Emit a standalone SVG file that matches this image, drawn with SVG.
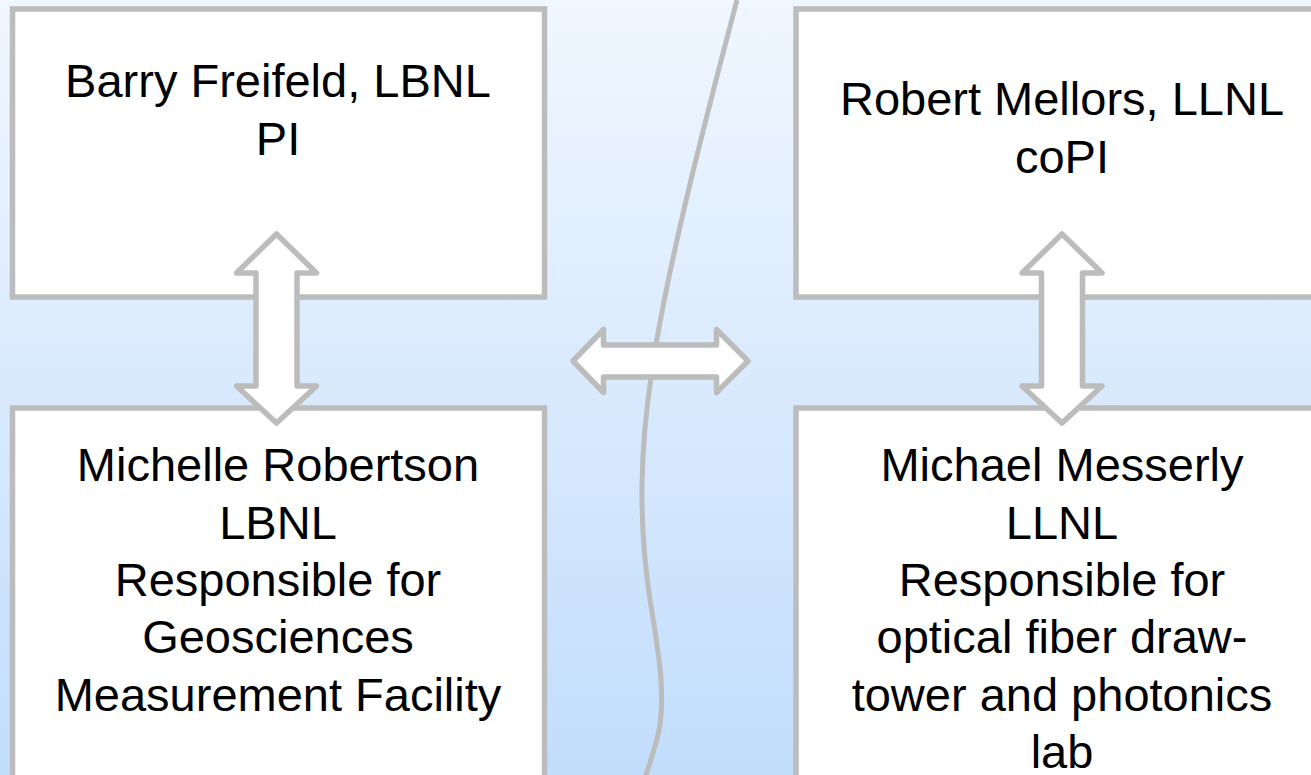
<svg xmlns="http://www.w3.org/2000/svg" width="1311" height="775" viewBox="0 0 1311 775">
<defs>
<linearGradient id="bg" x1="0" y1="0" x2="0" y2="1">
<stop offset="0" stop-color="#f0f7ff"/>
<stop offset="1" stop-color="#c2ddfc"/>
</linearGradient>
</defs>
<style>
.box{fill:#ffffff;stroke:#bcbcbc;stroke-width:5.5}
.arr{fill:#ffffff;stroke:#bcbcbc;stroke-width:5.5;stroke-linejoin:round}
.line{fill:none;stroke:#bcbcbc;stroke-width:5}
text{font-family:"Liberation Sans",Arial,sans-serif;font-size:47px;fill:#000000;text-anchor:middle}
</style>
<rect x="0" y="0" width="1311" height="775" fill="url(#bg)"/>
<g id="divider">
<path class="line" d="M737,0 C712,95 668,260 652,370 C640,450 638,520 650,600 C660,660 666,700 658,735 C654,752 649,765 645,778"/>
</g>
<g id="node-freifeld">
<rect class="box" x="12.5" y="9" width="532" height="288"/>
<text x="278" y="97">Barry Freifeld, LBNL</text>
<text x="278" y="155">PI</text>
</g>
<g id="node-mellors">
<rect class="box" x="796" y="9" width="540" height="288"/>
<text x="1062" y="115">Robert Mellors, LLNL</text>
<text x="1062" y="173">coPI</text>
</g>
<g id="node-robertson">
<rect class="box" x="12.5" y="408" width="532" height="370"/>
<text x="278" y="481">Michelle Robertson</text>
<text x="278" y="539">LBNL</text>
<text x="278" y="596">Responsible for</text>
<text x="278" y="653">Geosciences</text>
<text x="278" y="711">Measurement Facility</text>
</g>
<g id="node-messerly">
<rect class="box" x="796" y="408" width="540" height="370"/>
<text x="1062" y="481">Michael Messerly</text>
<text x="1062" y="539">LLNL</text>
<text x="1062" y="596">Responsible for</text>
<text x="1062" y="653">optical fiber draw-</text>
<text x="1062" y="711">tower and photonics</text>
<text x="1062" y="768">lab</text>
</g>
<g id="connectors">
<path class="arr" d="M276.5,234 L316.5,273 L297,273 L297,386 L316.5,386 L276.5,423 L236.5,386 L256,386 L256,273 L236.5,273 Z"/>
<path class="arr" d="M1062,234 L1102,273 L1082.5,273 L1082.5,386 L1102,386 L1062,423 L1022,386 L1041.5,386 L1041.5,273 L1022,273 Z"/>
<path class="arr" d="M573,361 L603.5,329.5 L603.5,345 L716.5,345 L716.5,329.5 L748,361 L716.5,392.5 L716.5,377 L603.5,377 L603.5,392.5 Z"/>
</g>
</svg>
